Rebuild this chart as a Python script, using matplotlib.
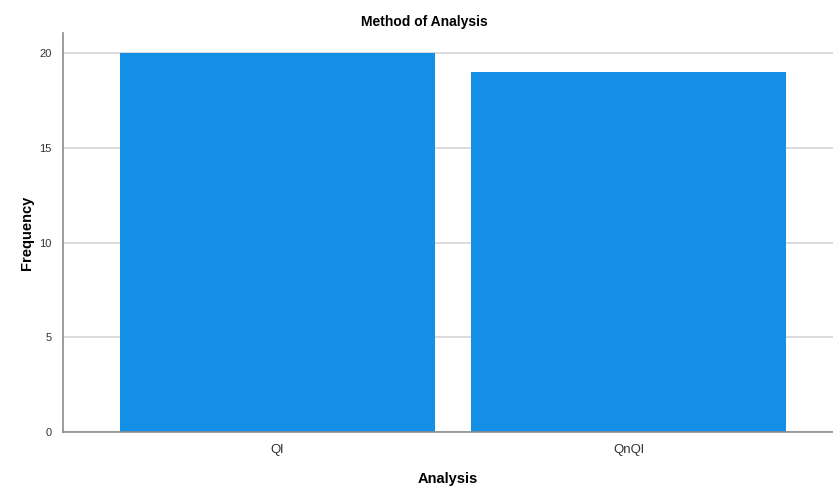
import matplotlib

matplotlib.use("Agg")
import matplotlib.pyplot as plt  # noqa: E402

categories = ["Ql", "QnQl"]
frequency = [20, 19]
y_ticks = [0, 5, 10, 15, 20]

plt.rcParams["font.family"] = ["Liberation Sans", "DejaVu Sans"]

fig = plt.figure(figsize=(8.33, 4.88), dpi=100)
ax = fig.add_axes([0.0756, 0.1148, 0.9244, 0.8172])

ax.bar(range(len(categories)), frequency, width=0.897, color="#1390E5", zorder=2)
ax.set_xlim(-0.611, 1.583)
ax.set_ylim(0, 21.05)
ax.set_yticks(y_ticks)
ax.set_xticks(range(len(categories)))
ax.set_xticklabels(categories)
ax.yaxis.grid(True, color="#d4d4d4", linewidth=1.2, zorder=0)
ax.tick_params(axis="y", length=0, pad=8, labelsize=8, labelcolor="#333333")
ax.tick_params(axis="x", length=0, pad=9, labelsize=9.5, labelcolor="#333333")

for side in ("top", "right"):
    ax.spines[side].set_visible(False)
for side in ("left", "bottom"):
    ax.spines[side].set_color("#8c8c8c")
    ax.spines[side].set_linewidth(1.2)

fig.text(424 / 833, 1 - 22 / 488, "Method of Analysis", fontsize=10,
         fontweight="bold", ha="center", va="center")
ax.set_xlabel("Analysis", fontsize=10.5, fontweight="bold", labelpad=11)
ax.set_ylabel("Frequency", fontsize=10.5, fontweight="bold", labelpad=4)

fig.savefig("out.png", dpi=100)
plt.close(fig)
